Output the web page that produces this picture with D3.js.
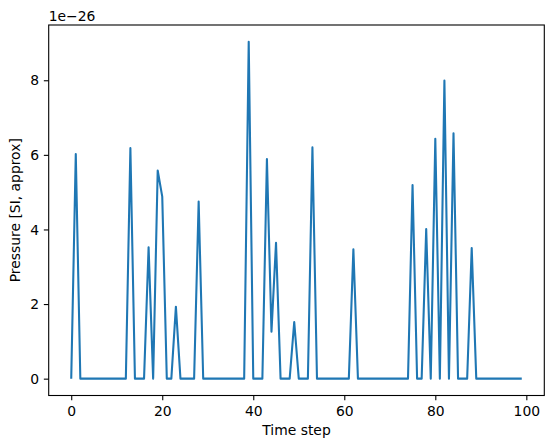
<!DOCTYPE html>
<html>
<head>
<meta charset="utf-8">
<script src="https://cdn.jsdelivr.net/npm/d3@7"></script>
<style>
  html, body { margin: 0; padding: 0; background: #fff; }
  svg { display: block; font-family: "DejaVu Sans", sans-serif; }
</style>
</head>
<body>
<svg id="chart" width="554" height="448"></svg>
<script>
// Data (pressure in units of 1e-26)
const timeSteps = d3.range(0, 100);
const pressureNonZero = [
  [1, 6.02], [13, 6.18], [17, 3.52], [19, 5.58], [20, 4.88], [23, 1.93],
  [28, 4.75], [39, 9.03], [43, 5.89], [44, 1.26], [45, 3.64], [49, 1.52],
  [53, 6.20], [62, 3.47], [75, 5.19], [78, 4.01], [80, 6.43], [82, 7.99],
  [84, 6.58], [88, 3.50]
];
const pressureValues = timeSteps.map(t => {
  const f = pressureNonZero.find(p => p[0] === t);
  return f ? f[1] : 0;
});
const xTicks = [0, 20, 40, 60, 80, 100];
const yTicks = [0, 2, 4, 6, 8];
const offsetLabel = "1e\u221226";
const xLabel = "Time step";
const yLabel = "Pressure [SI, approx]";

const svg = d3.select("#chart");
const m = { left: 48.7, right: 544.3, top: 25, bottom: 395.5 };

const xMin = 0, xMax = 99;
const xPad = (xMax - xMin) * 0.05;
const yMax = d3.max(pressureValues), yMin = 0;
const yPad = (yMax - yMin) * 0.05;

const x = d3.scaleLinear().domain([xMin - xPad, xMax + xPad]).range([m.left, m.right]);
const y = d3.scaleLinear().domain([yMin - yPad, yMax + yPad]).range([m.bottom, m.top]);

const fontSize = 13.9;
const tickLen = 4.86;

// Line
const line = d3.line().x((d, i) => x(timeSteps[i])).y(d => y(d));
svg.append("path")
  .datum(pressureValues)
  .attr("d", line)
  .attr("fill", "none")
  .attr("stroke", "#1f77b4")
  .attr("stroke-width", 2.08)
  .attr("stroke-linejoin", "round")
  .attr("stroke-linecap", "butt");

// Axes
const xAxis = d3.axisBottom(x).tickValues(xTicks).tickSize(tickLen).tickPadding(4.86).tickFormat(d3.format("d"));
const yAxis = d3.axisLeft(y).tickValues(yTicks).tickSize(tickLen).tickPadding(4.86).tickFormat(d3.format("d"));

const gx = svg.append("g").attr("transform", `translate(0,${m.bottom})`).call(xAxis);
const gy = svg.append("g").attr("transform", `translate(${m.left},0)`).call(yAxis);
[gx, gy].forEach(g => {
  g.select(".domain").remove();
  g.selectAll(".tick line").attr("stroke", "#000").attr("stroke-width", 1.1);
  g.selectAll(".tick text").attr("fill", "#000").attr("font-size", fontSize)
    .attr("font-family", "DejaVu Sans, sans-serif");
});
gy.selectAll(".tick text").attr("dy", "0.34em");
gx.selectAll(".tick text").attr("dy", "0.76em");

// Frame
svg.append("rect")
  .attr("x", m.left).attr("y", m.top)
  .attr("width", m.right - m.left).attr("height", m.bottom - m.top)
  .attr("fill", "none").attr("stroke", "#000").attr("stroke-width", 1.1);

// Offset text
svg.append("text")
  .attr("x", m.left).attr("y", 20.5)
  .attr("font-size", fontSize).attr("fill", "#000")
  .text(offsetLabel);

// Axis labels
svg.append("text")
  .attr("x", (m.left + m.right) / 2).attr("y", 435)
  .attr("text-anchor", "middle")
  .attr("font-size", fontSize).attr("fill", "#000")
  .text(xLabel);

svg.append("text")
  .attr("transform", `translate(20.3,${(m.top + m.bottom) / 2}) rotate(-90)`)
  .attr("text-anchor", "middle")
  .attr("font-size", fontSize).attr("fill", "#000")
  .text(yLabel);
</script>
</body>
</html>
